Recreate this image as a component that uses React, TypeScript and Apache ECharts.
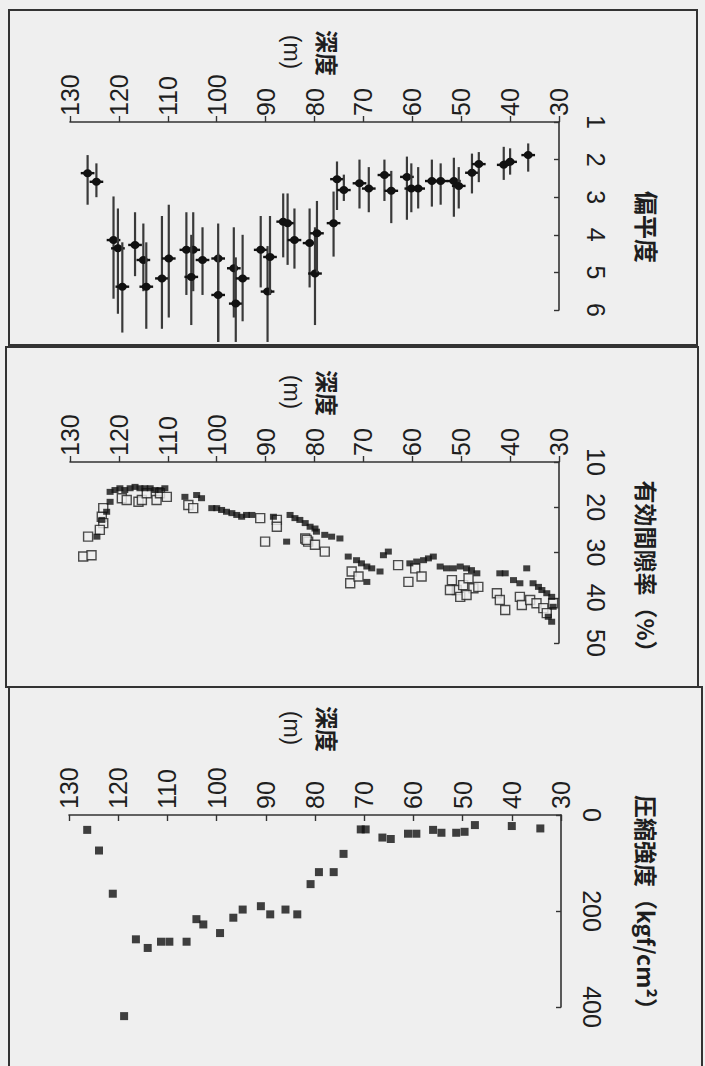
import React, { useEffect, useRef } from "react";
import * as echarts from "echarts";

// ---- tick labels ----
const depthTicks = [30, 40, 50, 60, 70, 80, 90, 100, 110, 120, 130];
const flatTicks = [1, 2, 3, 4, 5, 6];
const poreTicks = [10, 20, 30, 40, 50];
const strengthTicks = [0, 200, 400];

// ---- titles ----
const depthTitle = "深度";
const depthUnit = "(m)";
const flatTitle = "偏平度";
const poreTitle = "有効間隙率（%）";
const strengthTitle = "圧縮強度（kgf/cm²）";

// ---- panel 1: flatness (value with range) ----
const flatDepth = [126.4, 124.6, 121.1, 120.2, 119.3, 116.7, 115.0, 114.4, 111.2, 109.8, 106.2, 104.8, 105.2, 102.9, 99.7, 99.7, 96.5, 96.1, 94.7, 91.0, 89.6, 89.1, 86.4, 85.5, 84.1, 81.0, 79.9, 79.5, 76.1, 75.4, 74.0, 70.8, 68.9, 65.7, 64.3, 61.1, 60.2, 58.8, 56.0, 54.2, 51.5, 50.5, 47.8, 46.4, 41.3, 40.0, 36.3];
const flatValue = [2.36, 2.59, 4.14, 4.36, 5.38, 4.27, 4.67, 5.38, 5.16, 4.63, 4.40, 4.40, 5.12, 4.67, 4.63, 5.60, 4.89, 5.83, 5.16, 4.40, 5.51, 4.59, 3.65, 3.69, 4.14, 4.22, 5.03, 3.96, 3.69, 2.52, 2.81, 2.63, 2.77, 2.41, 2.83, 2.46, 2.77, 2.77, 2.57, 2.57, 2.57, 2.70, 2.35, 2.12, 2.14, 2.06, 1.88];
const flatLow = [1.88, 2.1, 2.98, 3.3, 4.2, 3.4, 3.7, 4.2, 3.5, 3.2, 3.4, 3.4, 4.0, 3.8, 3.7, 4.5, 3.8, 4.6, 4.0, 3.5, 4.3, 3.5, 2.9, 2.9, 3.3, 3.3, 3.8, 3.1, 2.85, 2.05, 2.4, 2.0, 2.2, 2.0, 2.3, 1.92, 2.1, 2.2, 2.0, 2.1, 1.95, 2.2, 1.84, 1.8, 1.66, 1.7, 1.57];
const flatHigh = [3.2, 3.0, 5.7, 6.1, 6.6, 5.1, 5.5, 6.5, 6.5, 6.2, 5.6, 5.5, 6.4, 5.6, 6.85, 6.85, 6.2, 6.85, 6.3, 5.4, 6.85, 5.6, 4.6, 4.8, 4.9, 5.4, 6.4, 5.0, 4.58, 3.34, 3.1, 3.3, 3.4, 3.1, 3.69, 3.6, 3.4, 3.3, 3.25, 3.2, 3.52, 3.3, 2.9, 2.6, 2.54, 2.4, 2.32];
const flatDepthHalf = 1.4;

// ---- panel 2: effective porosity ----
const poreFilledDepth = [121.8, 120.8, 119.8, 118.8, 117.7, 116.7, 115.7, 114.7, 113.6, 112.6, 111.6, 110.6, 106.5, 104.1, 103.1, 101.0, 100.0, 99.0, 98.0, 96.9, 95.9, 94.9, 93.9, 92.8, 88.4, 85.0, 84.0, 83.0, 81.9, 80.9, 79.9, 85.7, 121.8, 122.5, 123.5, 124.5, 79.6, 77.9, 76.5, 74.8, 73.1, 71.4, 70.4, 69.3, 68.3, 66.6, 65.9, 64.9, 69.3, 60.5, 59.1, 57.7, 56.7, 55.7, 54.3, 53.0, 51.6, 50.2, 48.9, 47.9, 46.8, 42.1, 41.0, 39.3, 36.6, 38.0, 35.3, 34.2, 33.5, 32.5, 31.5, 31.2, 32.2, 31.5];
const poreFilledValue = [16.6, 16.2, 15.8, 16.2, 15.8, 15.5, 15.8, 15.8, 15.8, 16.2, 16.2, 15.8, 17.7, 17.3, 18.0, 20.2, 20.2, 20.6, 21.0, 21.3, 21.7, 22.1, 21.7, 21.7, 22.1, 21.7, 22.4, 22.8, 23.5, 24.3, 24.7, 27.6, 18.8, 21.0, 22.8, 26.5, 25.4, 26.1, 26.5, 26.9, 30.9, 31.7, 32.4, 33.1, 33.5, 34.2, 30.6, 29.8, 36.5, 32.4, 32.0, 31.7, 31.3, 30.9, 33.1, 33.5, 33.5, 33.1, 33.5, 33.9, 34.6, 34.6, 34.6, 36.1, 33.5, 36.8, 36.8, 37.6, 38.3, 39.0, 39.8, 42.0, 44.2, 45.3];
const poreOpenDepth = [119.4, 118.4, 116.0, 115.3, 114.3, 112.3, 111.6, 110.2, 105.8, 104.8, 123.2, 123.5, 123.2, 123.9, 126.3, 127.3, 125.6, 91.1, 87.7, 87.7, 90.1, 81.9, 81.3, 81.6, 79.9, 77.9, 72.4, 72.7, 71.0, 62.9, 60.8, 59.4, 58.1, 51.9, 50.9, 49.6, 48.5, 47.5, 46.5, 50.2, 48.9, 52.3, 42.7, 42.1, 41.0, 38.0, 37.6, 35.9, 34.6, 33.2, 32.5, 31.2];
const poreOpenValue = [18.0, 18.4, 18.8, 18.4, 16.9, 18.4, 16.9, 17.7, 19.5, 20.2, 20.2, 22.1, 23.5, 25.0, 26.5, 30.9, 30.6, 22.4, 22.8, 24.3, 27.6, 26.9, 27.6, 27.2, 28.3, 29.8, 34.2, 36.8, 35.3, 32.8, 36.5, 33.5, 35.3, 36.1, 38.3, 37.2, 35.7, 37.9, 37.6, 39.8, 39.4, 38.3, 39.0, 40.5, 42.7, 39.8, 41.6, 40.5, 41.2, 42.3, 43.4, 41.2];

// ---- panel 3: compressive strength ----
const strengthDepth = [126.3, 123.9, 121.1, 118.8, 116.4, 114.0, 111.3, 109.6, 106.1, 104.1, 102.7, 99.3, 96.6, 94.7, 91.0, 89.1, 86.0, 83.6, 80.9, 79.2, 76.2, 74.2, 70.7, 69.7, 66.3, 64.6, 61.1, 59.4, 56.0, 54.3, 51.3, 49.6, 47.5, 40.0, 34.2];
const strengthValue = [31, 74, 164, 419, 259, 277, 264, 264, 264, 217, 228, 246, 214, 197, 190, 207, 197, 207, 144, 119, 119, 81, 30, 30, 47, 50, 39, 39, 31, 37, 37, 35, 21, 23, 28];

const pairs = (xs: number[], ys: number[]) => xs.map((x, i) => [x, ys[i]]);

const BG = "#efefef";
const INK = "#1e1e1e";
const NUM_FONT = "'Liberation Sans', Arial, sans-serif";
const CJK_FONT = "'Noto Sans CJK JP', 'Noto Sans', sans-serif";

function xAxisFor(gridIndex: number, tickInside: boolean) {
  return {
    type: "value",
    gridIndex,
    position: "top",
    inverse: true,
    min: depthTicks[0],
    max: depthTicks[depthTicks.length - 1],
    interval: depthTicks[1] - depthTicks[0],
    axisLine: { show: true, onZero: false, lineStyle: { color: "#333", width: 1.6 } },
    axisTick: { show: true, inside: tickInside, length: 6, lineStyle: { color: "#333", width: 1.4 } },
    axisLabel: { rotate: -90, margin: 6, fontSize: 25, color: INK, fontFamily: NUM_FONT },
    splitLine: { show: false },
  };
}

function yAxisFor(gridIndex: number, ticks: number[], margin: number) {
  return {
    type: "value",
    gridIndex,
    position: "right",
    inverse: true,
    min: ticks[0],
    max: ticks[ticks.length - 1],
    interval: ticks[1] - ticks[0],
    axisLine: { show: true, onZero: false, lineStyle: { color: "#333", width: 1.6 } },
    axisTick: { show: true, inside: true, length: 5, lineStyle: { color: "#333", width: 1.4 } },
    axisLabel: { rotate: -90, margin, fontSize: 25, color: INK, fontFamily: NUM_FONT },
    splitLine: { show: false },
  };
}

function vText(text: string, x: number, y: number, size: number, bold: boolean, font: string) {
  return {
    type: "text",
    x,
    y,
    rotation: -Math.PI / 2,
    style: {
      text,
      fill: INK,
      font: `${bold ? "bold " : ""}${size}px ${font}`,
      align: "center",
      verticalAlign: "middle",
      textAlign: "center",
      textVerticalAlign: "middle",
    },
  };
}

export default function App() {
  const ref = useRef<HTMLDivElement>(null);
  useEffect(() => {
    if (!ref.current) return;
    const chart = echarts.init(ref.current, undefined, { renderer: "svg" });
    const flatData = flatDepth.map((d, i) => [d, flatValue[i], flatLow[i], flatHigh[i]]);
    const option: any = {
      animation: false,
      backgroundColor: BG,
      grid: [
        { left: 70, right: 146, top: 122, height: 188 },
        { left: 70, right: 146, top: 462, height: 181 },
        { left: 69, right: 144, top: 815, height: 192 },
      ],
      xAxis: [xAxisFor(0, false), xAxisFor(1, false), xAxisFor(2, true)],
      yAxis: [yAxisFor(0, flatTicks, 24), yAxisFor(1, poreTicks, 24), yAxisFor(2, strengthTicks, 18)],
      series: [
        {
          type: "custom",
          xAxisIndex: 0,
          yAxisIndex: 0,
          clip: false,
          data: flatData,
          renderItem: (params: any, api: any) => {
            const d = api.value(0);
            const v = api.value(1);
            const lo = api.value(2);
            const hi = api.value(3);
            const p = api.coord([d, v]);
            const pLo = api.coord([d, lo]);
            const pHi = api.coord([d, hi]);
            const pL = api.coord([d + flatDepthHalf, v]);
            const pR = api.coord([d - flatDepthHalf, v]);
            return {
              type: "group",
              children: [
                {
                  type: "line",
                  shape: { x1: p[0], y1: pLo[1], x2: p[0], y2: pHi[1] },
                  style: { stroke: "#3a3a3a", lineWidth: 2.2 },
                },
                {
                  type: "line",
                  shape: { x1: pL[0], y1: p[1], x2: pR[0], y2: p[1] },
                  style: { stroke: "#111", lineWidth: 2.4 },
                },
                {
                  type: "ellipse",
                  shape: { cx: p[0], cy: p[1], rx: 4.5, ry: 4 },
                  style: { fill: "#111" },
                },
              ],
            };
          },
        },
        {
          type: "scatter",
          xAxisIndex: 1,
          yAxisIndex: 1,
          symbol: "rect",
          symbolSize: 9,
          data: pairs(poreOpenDepth, poreOpenValue),
          itemStyle: { color: BG, borderColor: "#222", borderWidth: 1.4 },
        },
        {
          type: "scatter",
          xAxisIndex: 1,
          yAxisIndex: 1,
          symbol: "rect",
          symbolSize: [7, 6],
          data: pairs(poreFilledDepth, poreFilledValue),
          itemStyle: { color: "#111" },
        },
        {
          type: "scatter",
          xAxisIndex: 2,
          yAxisIndex: 2,
          symbol: "rect",
          symbolSize: 8,
          clip: false,
          data: pairs(strengthDepth, strengthValue),
          itemStyle: { color: "#111" },
        },
      ],
      graphic: [
        { type: "rect", shape: { x: 9, y: 10, width: 688, height: 335 }, style: { fill: "none", stroke: "#333", lineWidth: 2 }, silent: true },
        { type: "rect", shape: { x: 6, y: 347, width: 692, height: 340 }, style: { fill: "none", stroke: "#333", lineWidth: 2 }, silent: true },
        { type: "rect", shape: { x: 9, y: 687, width: 693, height: 400 }, style: { fill: "none", stroke: "#333", lineWidth: 2 }, silent: true },
        vText(depthTitle, 328, 53, 23, true, CJK_FONT),
        vText(depthUnit, 292, 52, 23, false, NUM_FONT),
        vText(depthTitle, 328, 393, 23, true, CJK_FONT),
        vText(depthUnit, 292, 392, 23, false, NUM_FONT),
        vText(depthTitle, 328, 729, 23, true, CJK_FONT),
        vText(depthUnit, 292, 728, 23, false, NUM_FONT),
        vText(flatTitle, 647, 227, 24, true, CJK_FONT),
        vText(poreTitle, 647, 572, 23, true, CJK_FONT),
        vText(strengthTitle, 647, 908, 23, true, CJK_FONT),
      ],
    };
    chart.setOption(option);
    return () => chart.dispose();
  }, []);
  return (
    <div
      ref={ref}
      style={{ position: "absolute", left: 0, top: 0, width: 705, height: 1066 }}
    />
  );
}
